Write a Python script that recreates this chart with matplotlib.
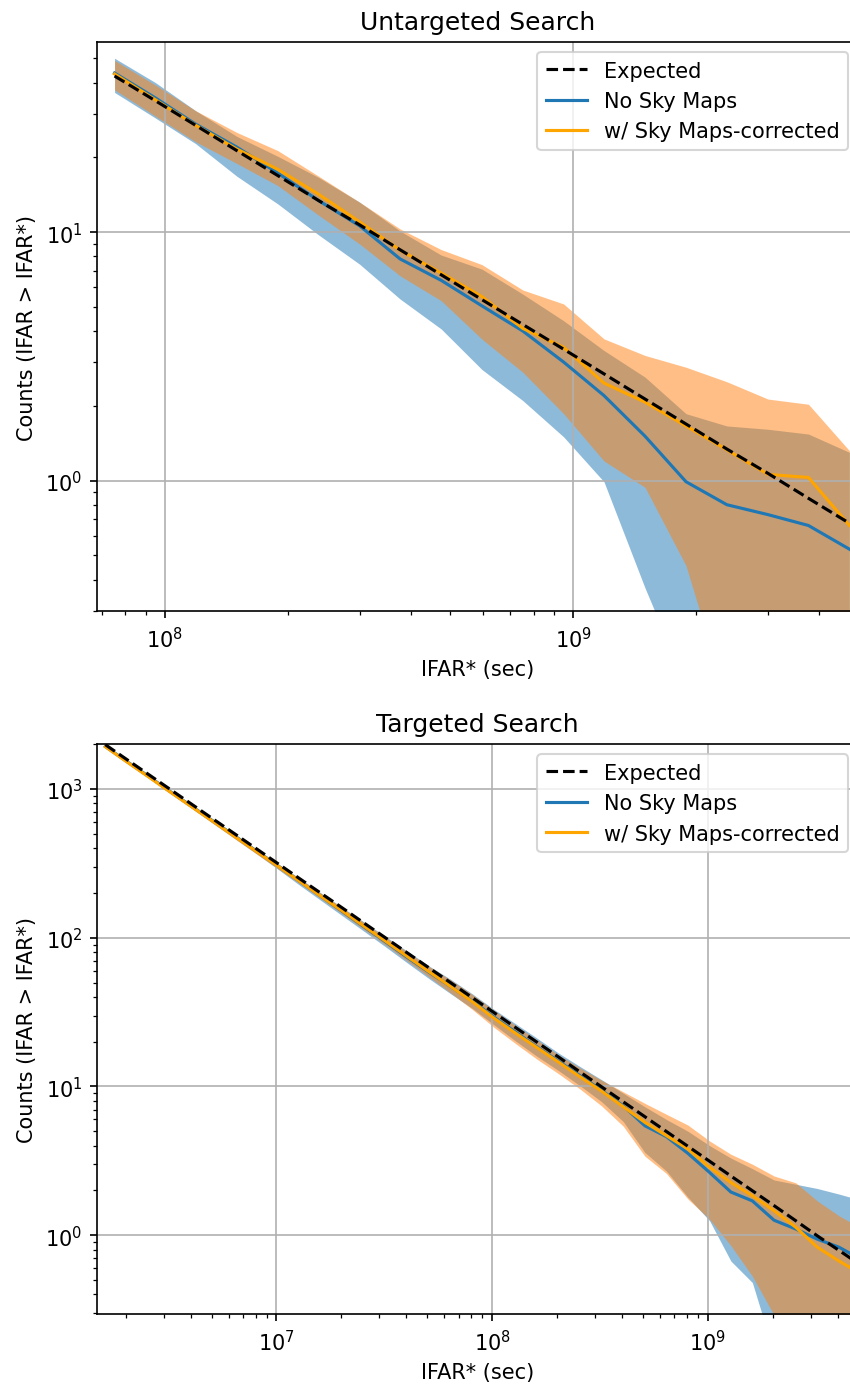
import matplotlib
matplotlib.use("Agg")
import matplotlib.pyplot as plt

# ---------------- Untargeted search ----------------
ifar_untargeted = [7.53e7, 9.48e7, 1.19e8, 1.50e8, 1.89e8, 2.38e8, 3.00e8, 3.77e8,
                   4.75e8, 5.98e8, 7.53e8, 9.48e8, 1.19e9, 1.50e9, 1.89e9, 2.38e9,
                   3.00e9, 3.77e9, 4.75e9]
expected_untargeted = [42.5, 33.8, 26.9, 21.3, 16.9, 13.4, 10.7, 8.49, 6.74, 5.35,
                       4.25, 3.38, 2.69, 2.13, 1.69, 1.34, 1.07, 0.849, 0.674]
nosky_untargeted = [43.7, 34.7, 27.2, 22.0, 17.3, 13.4, 10.6, 7.8, 6.4, 5.05,
                    4.0, 3.0, 2.2, 1.51, 0.99, 0.80, 0.73, 0.66, 0.53]
nosky_lo_untargeted = [36.5, 28.8, 22.7, 16.8, 13.0, 9.75, 7.43, 5.38, 4.08, 2.8,
                       2.10, 1.50, 0.99, 0.37, 0.15, 0.05, 0.05, 0.05, 0.05]
nosky_hi_untargeted = [50.1, 40.0, 30.8, 24.3, 20.2, 16.6, 13.2, 10.1, 8.09, 7.1,
                       5.63, 4.40, 3.34, 2.61, 1.86, 1.66, 1.61, 1.54, 1.30]
sky_untargeted = [43.3, 34.1, 26.9, 21.6, 17.9, 14.2, 11.0, 8.45, 6.85, 5.5,
                  4.1, 3.44, 2.47, 2.07, 1.66, 1.33, 1.06, 1.03, 0.66]
sky_lo_untargeted = [37.4, 29.3, 23.1, 18.9, 15.4, 11.7, 8.96, 6.67, 5.30, 3.71,
                     2.73, 1.86, 1.20, 0.94, 0.455, 0.13, 0.1, 0.1, 0.1]
sky_hi_untargeted = [49.1, 39.1, 30.8, 25.2, 21.3, 16.8, 13.2, 10.3, 8.51, 7.4,
                     5.85, 5.14, 3.72, 3.19, 2.86, 2.50, 2.13, 2.03, 1.32]

# ---------------- Targeted search ----------------
ifar_targeted = [1.61e6, 2.03e6, 2.56e6, 3.22e6, 4.06e6, 5.11e6, 6.43e6, 8.09e6,
                 1.02e7, 1.28e7, 1.61e7, 2.03e7, 2.56e7, 3.22e7, 4.06e7, 5.11e7,
                 6.43e7, 8.09e7, 1.02e8, 1.28e8, 1.61e8, 2.03e8, 2.56e8, 3.22e8,
                 4.06e8, 5.11e8, 6.43e8, 8.09e8, 1.02e9, 1.28e9, 1.61e9, 2.03e9,
                 2.56e9, 3.22e9, 4.06e9, 5.11e9]
expected_targeted = [1988, 1576, 1250, 994, 788, 626, 498, 396, 314, 250, 199, 158,
                     125, 99.4, 78.8, 62.6, 49.8, 39.6, 31.4, 25.0, 19.9, 15.8, 12.5,
                     9.94, 7.88, 6.26, 4.98, 3.96, 3.14, 2.50, 1.99, 1.58, 1.25, 0.99,
                     0.79, 0.63]
nosky_targeted = [1935, 1530, 1215, 962, 763, 606, 482, 382, 303, 240, 190, 150,
                  118, 93.5, 73.5, 58.5, 47.0, 37.5, 29.3, 23.3, 18.5, 14.8, 11.8,
                  9.4, 7.4, 5.44, 4.6, 3.55, 2.64, 1.95, 1.70, 1.26, 1.10, 0.94,
                  0.83, 0.69]
nosky_lo_targeted = [1890, 1495, 1185, 935, 740, 585, 463, 367, 288, 226, 178, 140,
                     110, 86.5, 67.5, 53.0, 42.0, 33.5, 26.0, 20.3, 16.0, 12.8, 10.1,
                     7.9, 5.8, 3.6, 2.7, 1.8, 1.25, 0.67, 0.48, 0.16, 0.05, 0.05,
                     0.05, 0.05]
nosky_hi_targeted = [1970, 1560, 1240, 985, 782, 624, 497, 395, 314, 251, 200, 159,
                     127, 101.5, 81, 64.5, 52.5, 42, 33, 26.5, 21.2, 16.8, 13.6,
                     11.1, 9.0, 7.3, 6.0, 5.0, 4.0, 3.3, 2.8, 2.35, 2.2, 2.06,
                     1.89, 1.72]
sky_targeted = [1925, 1520, 1205, 955, 758, 602, 478, 380, 302, 240, 190, 151,
                119, 94.5, 74.5, 59.0, 47.0, 37.2, 28.8, 22.9, 18.3, 14.6, 11.6,
                9.3, 7.3, 5.74, 4.67, 3.80, 2.86, 2.26, 1.84, 1.46, 1.13, 0.83,
                0.67, 0.55]
sky_lo_targeted = [1885, 1490, 1180, 932, 738, 584, 462, 366, 290, 232, 183, 144,
                   113, 89, 69.5, 54.5, 42.5, 33, 25, 19.5, 15.3, 12.2, 9.6, 7.4,
                   5.4, 3.4, 2.6, 1.75, 1.28, 0.85, 0.53, 0.29, 0.1, 0.1, 0.1, 0.1]
sky_hi_targeted = [1965, 1555, 1235, 982, 780, 622, 495, 394, 313, 250, 199, 158.5,
                   126, 100.5, 80, 64, 52, 41.5, 32.5, 25.8, 20.6, 16.3, 13.3, 11.0,
                   9.2, 7.7, 6.5, 5.5, 4.3, 3.5, 3.0, 2.5, 2.25, 1.7, 1.35, 1.12]

W, H, DPI = 851, 1385, 150
fig = plt.figure(figsize=(W / DPI, H / DPI), dpi=DPI)
ax_top = fig.add_axes([97 / W, 1 - 612.3 / H, 761.5 / W, (612.3 - 42.9) / H])
ax_bot = fig.add_axes([97 / W, 1 - 1315 / H, 761.5 / W, (1315 - 745) / H])


def draw(ax, x, exp, nosky, nosky_lo, nosky_hi, sky, sky_lo, sky_hi,
         title, xlim, ylim):
    ax.fill_between(x, nosky_lo, nosky_hi, color="C0", alpha=0.5, linewidth=0)
    ax.fill_between(x, sky_lo, sky_hi, color="C1", alpha=0.5, linewidth=0)
    ax.plot(x, exp, "k--", label="Expected", zorder=3)
    ax.plot(x, nosky, color="C0", label="No Sky Maps")
    ax.plot(x, sky, color="orange", label="w/ Sky Maps-corrected")
    ax.set_xscale("log")
    ax.set_yscale("log")
    ax.set_xlim(*xlim)
    ax.set_ylim(*ylim)
    ax.grid(True)
    ax.set_xlabel("IFAR* (sec)")
    ax.set_ylabel("Counts (IFAR > IFAR*)")
    ax.set_title(title)
    ax.legend(loc="upper right")


draw(ax_top, ifar_untargeted, expected_untargeted,
     nosky_untargeted, nosky_lo_untargeted, nosky_hi_untargeted,
     sky_untargeted, sky_lo_untargeted, sky_hi_untargeted,
     "Untargeted Search", (6.82e7, 5.0e9), (0.298, 58.3))
draw(ax_bot, ifar_targeted, expected_targeted,
     nosky_targeted, nosky_lo_targeted, nosky_hi_targeted,
     sky_targeted, sky_lo_targeted, sky_hi_targeted,
     "Targeted Search", (1.472e6, 5.0e9), (0.295, 2010))

fig.savefig("out.png", dpi=DPI)
